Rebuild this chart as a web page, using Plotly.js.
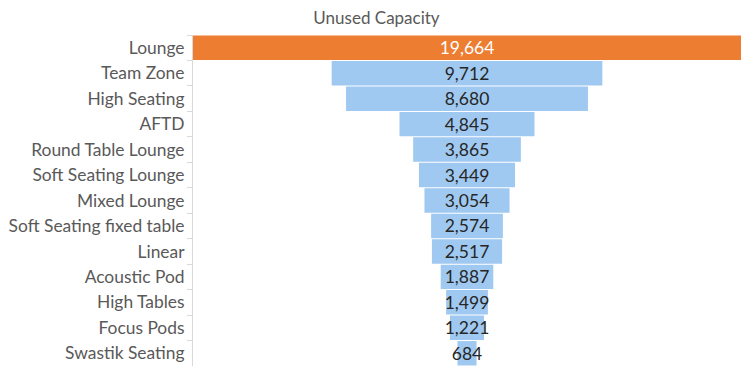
<!DOCTYPE html>
<html><head><meta charset="utf-8">
<script src="https://cdn.plot.ly/plotly-3.0.1.min.js"></script>
<style>html,body{margin:0;padding:0;background:#fff}#chart{width:753px;height:377px}</style>
</head><body><div id="chart"></div>
<script>
const categories = ["Lounge","Team Zone","High Seating","AFTD","Round Table Lounge","Soft Seating Lounge","Mixed Lounge","Soft Seating fixed table","Linear","Acoustic Pod","High Tables","Focus Pods","Swastik Seating"];
const values = [19664,9712,8680,4845,3865,3449,3054,2574,2517,1887,1499,1221,684];
const barColors = values.map((v,i)=> i===0 ? "#ED7D31" : "#A0C9F1");
const textColors = values.map((v,i)=> i===0 ? "#FFFFFF" : "#262626");
const maxV = Math.max(...values);

Plotly.newPlot("chart", [{
  type: "funnel",
  y: categories,
  x: values,
  marker: {color: barColors, line: {width: 0}},
  texttemplate: "%{x:,}",
  textposition: "inside",
  insidetextanchor: "middle",
  constraintext: "none",
  textfont: {family: "Lato, 'Open Sans', sans-serif", size: 17.5, color: textColors},
  connector: {visible: false},
  hoverinfo: "skip"
}], {
  width: 753, height: 377,
  margin: {l: 193, r: 12, t: 35, b: 11},
  paper_bgcolor: "#fff", plot_bgcolor: "#fff",
  title: {text: "Unused Capacity", x: 0.5, xanchor: "center", y: 0.952, yanchor: "middle",
          font: {family: "Lato, 'Open Sans', sans-serif", size: 17, color: "#595959"}},
  funnelgap: 0.04,
  showlegend: false,
  xaxis: {visible: false, range: [-maxV/2, maxV/2], fixedrange: true},
  yaxis: {
    type: "category", autorange: "reversed",
    showline: true, linecolor: "#D9D9D9", linewidth: 1,
    ticks: "outside", tickson: "boundaries", ticklen: 5, tickcolor: "#D9D9D9",
    ticklabelstandoff: 4,
    tickfont: {family: "Lato, 'Open Sans', sans-serif", size: 17.4, color: "#595959"},
    showgrid: false, zeroline: false
  }
}, {displayModeBar: false, staticPlot: true});
</script>
</body></html>
